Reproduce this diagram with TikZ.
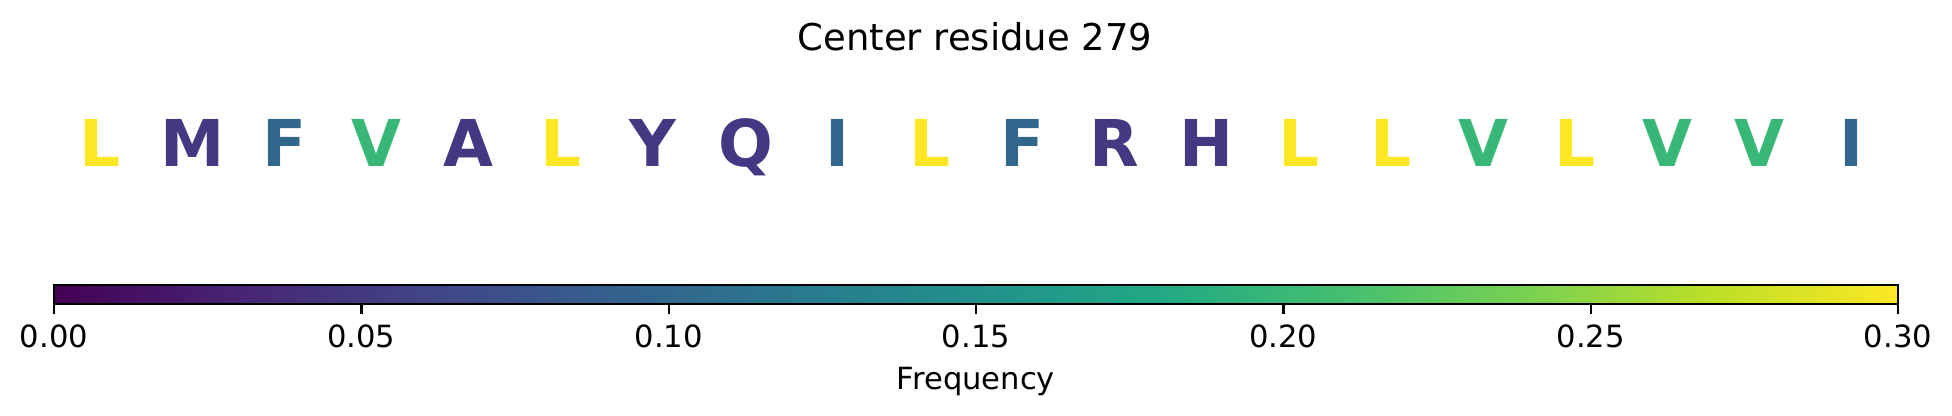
\documentclass[tikz,border=0pt]{standalone}
\usepackage{fontspec}
\setmainfont{DejaVu Sans}
\usepackage{tikz}
\usepackage{xcolor}

\definecolor{vir0}{RGB}{68,1,84}
\definecolor{vir1}{RGB}{72,36,117}
\definecolor{vir2}{RGB}{65,68,135}
\definecolor{vir3}{RGB}{53,95,141}
\definecolor{vir4}{RGB}{42,120,142}
\definecolor{vir5}{RGB}{33,145,140}
\definecolor{vir6}{RGB}{34,168,132}
\definecolor{vir7}{RGB}{68,191,112}
\definecolor{vir8}{RGB}{122,209,81}
\definecolor{vir9}{RGB}{189,223,38}
\definecolor{vir10}{RGB}{253,231,37}

\definecolor{freqA}{RGB}{69,56,130}
\definecolor{freqB}{RGB}{49,103,141}
\definecolor{freqD}{RGB}{57,183,119}
\definecolor{freqF}{RGB}{253,231,37}

\tikzset{
  residue/.style={anchor=base, inner sep=0pt, font=\bfseries\fontsize{18.35}{20}\selectfont},
  ticklabel/.style={anchor=base, inner sep=0pt, font=\fontsize{8.7}{10}\selectfont},
  tickmark/.style={line width=0.68pt}
}

\begin{document}
\begin{tikzpicture}[x=0.01cm, y=-0.01cm]
        \useasboundingbox (0,0) rectangle (1952,416);

        \node [anchor=base, inner sep=0pt, font=\fontsize{10.5}{12}\selectfont] (title) at (975,51) {Center residue 279};

        \node [residue, text=freqF] (r1) at (100.1,167) {L};
        \node [residue, text=freqA] (r2) at (192.3,167) {M};
        \node [residue, text=freqB] (r3) at (284.5,167) {F};
        \node [residue, text=freqD] (r4) at (376.7,167) {V};
        \node [residue, text=freqA] (r5) at (468.9,167) {A};
        \node [residue, text=freqF] (r6) at (561.1,167) {L};
        \node [residue, text=freqA] (r7) at (653.3,167) {Y};
        \node [residue, text=freqA] (r8) at (745.5,167) {Q};
        \node [residue, text=freqB] (r9) at (837.7,167) {I};
        \node [residue, text=freqF] (r10) at (929.9,167) {L};
        \node [residue, text=freqB] (r11) at (1022.1,167) {F};
        \node [residue, text=freqA] (r12) at (1114.3,167) {R};
        \node [residue, text=freqA] (r13) at (1206.5,167) {H};
        \node [residue, text=freqF] (r14) at (1298.7,167) {L};
        \node [residue, text=freqF] (r15) at (1390.9,167) {L};
        \node [residue, text=freqD] (r16) at (1483.1,167) {V};
        \node [residue, text=freqF] (r17) at (1575.3,167) {L};
        \node [residue, text=freqD] (r18) at (1667.5,167) {V};
        \node [residue, text=freqD] (r19) at (1759.7,167) {V};
        \node [residue, text=freqB] (r20) at (1851.9,167) {I};

        % colour bar
        \shade [left color=vir0, right color=vir1] (54,285) rectangle (238.9,304);
        \shade [left color=vir1, right color=vir2] (238.4,285) rectangle (423.3,304);
        \shade [left color=vir2, right color=vir3] (422.8,285) rectangle (607.7,304);
        \shade [left color=vir3, right color=vir4] (607.2,285) rectangle (792.1,304);
        \shade [left color=vir4, right color=vir5] (791.6,285) rectangle (976.5,304);
        \shade [left color=vir5, right color=vir6] (976,285) rectangle (1160.9,304);
        \shade [left color=vir6, right color=vir7] (1160.4,285) rectangle (1345.3,304);
        \shade [left color=vir7, right color=vir8] (1344.8,285) rectangle (1529.7,304);
        \shade [left color=vir8, right color=vir9] (1529.2,285) rectangle (1714.1,304);
        \shade [left color=vir9, right color=vir10] (1713.6,285) rectangle (1898,304);
        \draw [line width=0.68pt] (54,285) rectangle (1898,304);

        \coordinate (c0) at (54,304);
        \coordinate (c1) at (361.3,304);
        \coordinate (c2) at (668.7,304);
        \coordinate (c3) at (976,304);
        \coordinate (c4) at (1283.3,304);
        \coordinate (c5) at (1590.7,304);
        \coordinate (c6) at (1898,304);

        \node [ticklabel] (t0) at (54,348) {0.00};
        \node [ticklabel] (t1) at (361.3,348) {0.05};
        \node [ticklabel] (t2) at (668.7,348) {0.10};
        \node [ticklabel] (t3) at (976,348) {0.15};
        \node [ticklabel] (t4) at (1283.3,348) {0.20};
        \node [ticklabel] (t5) at (1590.7,348) {0.25};
        \node [ticklabel] (t6) at (1898,348) {0.30};

        \draw [tickmark] (c0) -- ++(0,10.5);
        \draw [tickmark] (c1) -- ++(0,10.5);
        \draw [tickmark] (c2) -- ++(0,10.5);
        \draw [tickmark] (c3) -- ++(0,10.5);
        \draw [tickmark] (c4) -- ++(0,10.5);
        \draw [tickmark] (c5) -- ++(0,10.5);
        \draw [tickmark] (c6) -- ++(0,10.5);

        \node [ticklabel] (freq) at (976,390) {Frequency};
    \end{tikzpicture}
\end{document}
